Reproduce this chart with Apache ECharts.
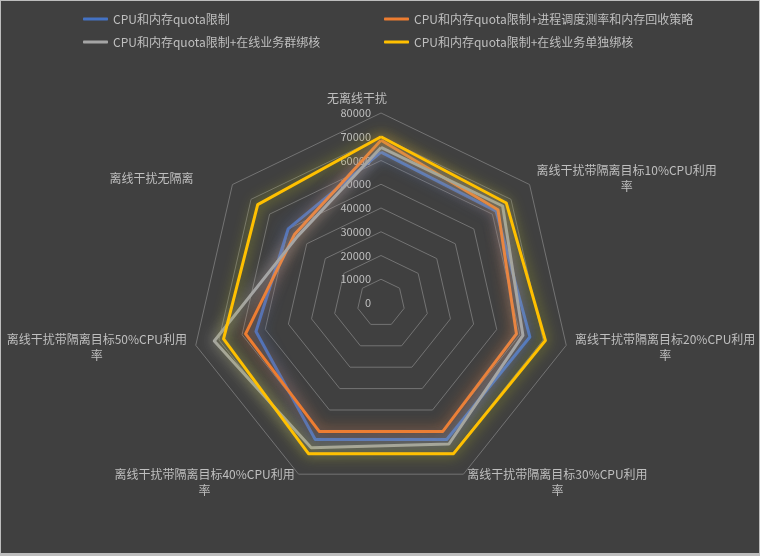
<!DOCTYPE html>
<html>
<head>
<meta charset="utf-8">
<script src="https://cdn.jsdelivr.net/npm/echarts@6/dist/echarts.min.js"></script>
<style>
html,body{margin:0;padding:0;background:#404040;}
#c{width:760px;height:556px;box-sizing:border-box;border:1px solid #bdbdbd;border-bottom-width:3px;}
</style>
</head>
<body>
<div id="c"></div>
<script>
// Categories in natural (clockwise, starting at top) order
const categories = [
  '无离线干扰',
  '离线干扰带隔离目标10%CPU利用率',
  '离线干扰带隔离目标20%CPU利用率',
  '离线干扰带隔离目标30%CPU利用率',
  '离线干扰带隔离目标40%CPU利用率',
  '离线干扰带隔离目标50%CPU利用率',
  '离线干扰无隔离'
];
const seriesNames = [
  'CPU和内存quota限制',
  'CPU和内存quota限制+进程调度测率和内存回收策略',
  'CPU和内存quota限制+在线业务群绑核',
  'CPU和内存quota限制+在线业务单独绑核'
];
const quotaOnly      = [63500, 62000, 64300, 63800, 63800, 54000, 50000];
const quotaSched     = [68500, 63000, 58500, 60000, 60000, 58500, 46500];
const quotaGroupBind = [65500, 65500, 61300, 65900, 67700, 72000, 45000];
const quotaSoloBind  = [70000, 67500, 71000, 70400, 70400, 68000, 66400];
const axisMin = 0, axisMax = 80000, axisStep = 10000;

const colors = ['#4472C4', '#ED7D31', '#A5A5A5', '#FFC000'];
const glows  = ['rgba(68,114,196,1)', 'rgba(237,125,49,0.95)', 'rgba(200,200,200,0.9)', 'rgba(175,180,30,1)'];
const FONT = 'Noto Sans CJK SC';

// ECharts radar places indicators counter-clockwise; reorder to get clockwise layout
const order = [0, 6, 5, 4, 3, 2, 1];
const reorder = arr => order.map(i => arr[i]);

const indicator = reorder(categories).map(n => ({ name: n, min: axisMin, max: axisMax }));

const allData = [quotaOnly, quotaSched, quotaGroupBind, quotaSoloBind];

const legendBase = {
  orient: 'vertical', top: 12, padding: 0, itemGap: 11, itemWidth: 25, itemHeight: 3, icon: 'roundRect',
  textStyle: { color: '#bfbfbf', fontSize: 12, fontFamily: FONT }
};

const chart = echarts.init(document.getElementById('c'));
chart.setOption({
  backgroundColor: '#404040',
  legend: [
    Object.assign({}, legendBase, { left: 82, data: [seriesNames[0], seriesNames[2]] }),
    Object.assign({}, legendBase, { left: 383, data: [seriesNames[1], seriesNames[3]] })
  ],
  polar: { center: [380, 302], radius: 190 },
  angleAxis: { type: 'value', min: 0, max: 360, startAngle: 90, show: false },
  radiusAxis: {
    type: 'value', min: axisMin, max: axisMax, interval: axisStep,
    axisLine: { show: false }, axisTick: { show: false }, splitLine: { show: false },
    axisLabel: { color: '#bfbfbf', fontSize: 11, fontFamily: FONT, margin: 10, formatter: v => String(v) }
  },
  radar: {
    center: [380, 302],
    radius: 190,
    startAngle: 90,
    shape: 'polygon',
    splitNumber: 8,
    indicator: indicator,
    axisNameGap: 9,
    axisName: {
      color: '#bfbfbf', fontSize: 12, fontFamily: FONT,
      formatter: function (name) {
        if (name === categories[0]) return '{top|' + name + '}';
        if (name === categories[6]) return '{ul|' + name + '}';
        const head = name.slice(0, -1), tail = name.slice(-1);
        return '{c|' + head + '}\n{c|' + tail + '}';
      },
      rich: {
        top: { align: 'center', color: '#bfbfbf', fontSize: 12, fontFamily: FONT, padding: [0, 48, 0, 0] },
        ul: { color: '#bfbfbf', fontSize: 12, fontFamily: FONT, padding: [0, 32, 0, 0] },
        c: { align: 'center', color: '#bfbfbf', fontSize: 12, fontFamily: FONT, lineHeight: 16 }
      }
    },
    axisLine: { show: false },
    axisTick: { show: false },
    splitArea: { show: false },
    splitLine: { lineStyle: { color: '#737373', width: 1 } }
  },
  series: seriesNames.map((n, i) => ({
    type: 'radar',
    name: n,
    symbol: 'none',
    z: 2 + i,
    itemStyle: { color: colors[i] },
    lineStyle: { width: 3, color: colors[i], shadowBlur: 14, shadowColor: glows[i] },
    data: [{ name: n, value: reorder(allData[i]) }]
  }))
});
</script>
</body>
</html>
